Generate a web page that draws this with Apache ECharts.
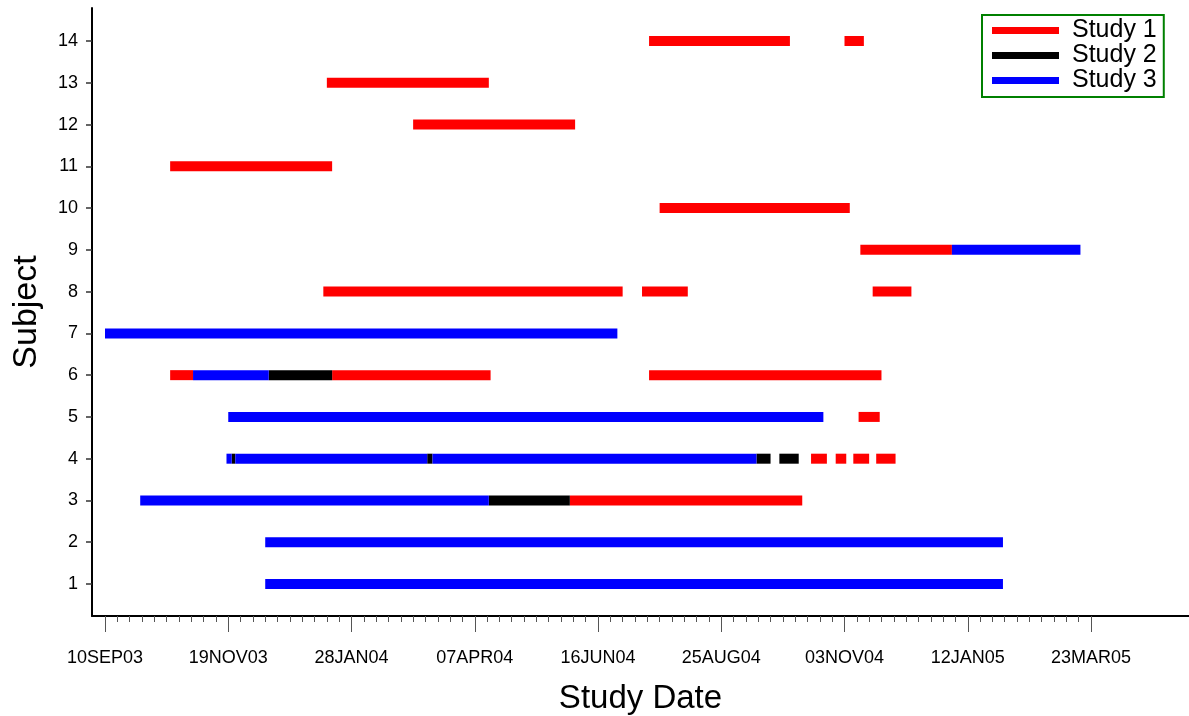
<!DOCTYPE html>
<html lang="en">
<head>
    <meta charset="UTF-8">
    <script src="https://cdn.jsdelivr.net/npm/echarts@6/dist/echarts.min.js"></script>
    <title>Study Date by Subject</title>
    <style>
        html, body { margin: 0; padding: 0; background: #fff; }
        #chart { width: 1189px; height: 716px; }
    </style>
</head>
<body>
<div id="chart"></div>
<script type="text/javascript">
    // days counted from 10SEP03
    var xTickLabels = ['10SEP03', '19NOV03', '28JAN04', '07APR04', '16JUN04', '25AUG04', '03NOV04', '12JAN05', '23MAR05'];
    var studyNames = ['Study 1', 'Study 2', 'Study 3'];
    var studyColors = ['#ff0000', '#000000', '#0000ff'];

    // [subject, start day, end day]
    var study1 = [
        [14, 309, 389], [14, 420, 431],
        [13, 126, 218],
        [12, 175, 267],
        [11, 37, 129],
        [10, 315, 423],
        [9, 429, 481],
        [8, 124, 294], [8, 305, 331], [8, 436, 458],
        [6, 37, 50], [6, 129, 219], [6, 309, 441],
        [5, 428, 440],
        [4, 401, 410], [4, 415, 421], [4, 425, 434], [4, 438, 449],
        [3, 264, 396]
    ];
    var study2 = [
        [6, 93, 129],
        [4, 72, 74], [4, 183, 186], [4, 370, 378], [4, 383, 394],
        [3, 218, 264]
    ];
    var study3 = [
        [9, 481, 554],
        [7, 0, 291],
        [6, 50, 93],
        [5, 70, 408],
        [4, 69, 72], [4, 74, 183], [4, 186, 370],
        [3, 20, 218],
        [2, 91, 510],
        [1, 91, 510]
    ];

    var font = 'Liberation Sans, Arial, sans-serif';

    function renderBar(params, api) {
        var p1 = api.coord([api.value(1), api.value(0)]);
        var p2 = api.coord([api.value(2), api.value(0)]);
        return {
            type: 'rect',
            shape: { x: p1[0], y: p1[1] - 5, width: p2[0] - p1[0], height: 10 },
            style: { fill: api.visual('color') }
        };
    }

    function makeSeries(i, data) {
        return {
            name: studyNames[i],
            type: 'custom',
            xAxisIndex: 0,
            yAxisIndex: 0,
            clip: false,
            renderItem: renderBar,
            itemStyle: { color: studyColors[i] },
            encode: { x: [1, 2], y: 0 },
            data: data
        };
    }

    var myChart = echarts.init(document.getElementById('chart'));
    var option = {
        animation: false,
        backgroundColor: '#fff',
        textStyle: { fontFamily: font },
        grid: [
            { left: 105, right: 98, top: 41, bottom: 132, outerBoundsMode: 'none' }, // data
            { left: 92, right: 0, top: 8, bottom: 100, outerBoundsMode: 'none' },    // frame lines
            { left: 92, right: 0, top: 41, bottom: 132, outerBoundsMode: 'none' }    // subject ticks
        ],
        legend: {
            orient: 'vertical',
            left: 982,
            top: 15,
            padding: [3, 7, 4, 10],
            itemGap: 0,
            itemWidth: 67,
            itemHeight: 7,
            icon: 'rect',
            borderColor: '#008000',
            borderWidth: 2,
            data: studyNames,
            textStyle: {
                fontSize: 25,
                lineHeight: 24,
                color: '#000',
                fontFamily: font,
                padding: [0, 0, 0, 8]
            }
        },
        xAxis: [
            {
                type: 'value',
                gridIndex: 0,
                min: 0,
                max: 560,
                interval: 70,
                offset: 32,
                axisLine: { show: false },
                axisTick: { show: true, length: 16, lineStyle: { color: '#555', width: 1 } },
                minorTick: { show: true, splitNumber: 10, length: 6, lineStyle: { color: '#555', width: 1 } },
                splitLine: { show: false },
                minorSplitLine: { show: false },
                axisLabel: {
                    margin: 33,
                    fontSize: 18,
                    color: '#000',
                    fontFamily: font,
                    formatter: function (v) { return xTickLabels[Math.round(v / 70)]; }
                }
            },
            {
                type: 'value',
                gridIndex: 1,
                min: 0,
                max: 1,
                axisLine: { show: true, onZero: false, lineStyle: { color: '#000', width: 2 } },
                axisTick: { show: false },
                axisLabel: { show: false },
                splitLine: { show: false },
                name: 'Study Date',
                nameLocation: 'middle',
                nameGap: 66,
                nameTextStyle: { fontSize: 33, color: '#000', fontFamily: font }
            },
            {
                type: 'value',
                gridIndex: 2,
                show: false
            }
        ],
        yAxis: [
            {
                type: 'value',
                gridIndex: 0,
                min: 1,
                max: 14,
                show: false
            },
            {
                type: 'value',
                gridIndex: 1,
                min: 0,
                max: 1,
                axisLine: { show: true, onZero: false, lineStyle: { color: '#000', width: 2 } },
                axisTick: { show: false },
                axisLabel: { show: false },
                splitLine: { show: false },
                name: 'Subject',
                nameLocation: 'middle',
                nameGap: 48,
                nameTextStyle: { fontSize: 34, color: '#000', fontFamily: font }
            },
            {
                type: 'value',
                gridIndex: 2,
                min: 1,
                max: 14,
                interval: 1,
                axisLine: { show: false },
                axisTick: { show: true, length: 6, lineStyle: { color: '#333', width: 1.5 } },
                splitLine: { show: false },
                axisLabel: { margin: 14, fontSize: 18, color: '#000', fontFamily: font }
            }
        ],
        series: [
            makeSeries(0, study1),
            makeSeries(1, study2),
            makeSeries(2, study3)
        ]
    };
    myChart.setOption(option);
</script>
</body>
</html>
